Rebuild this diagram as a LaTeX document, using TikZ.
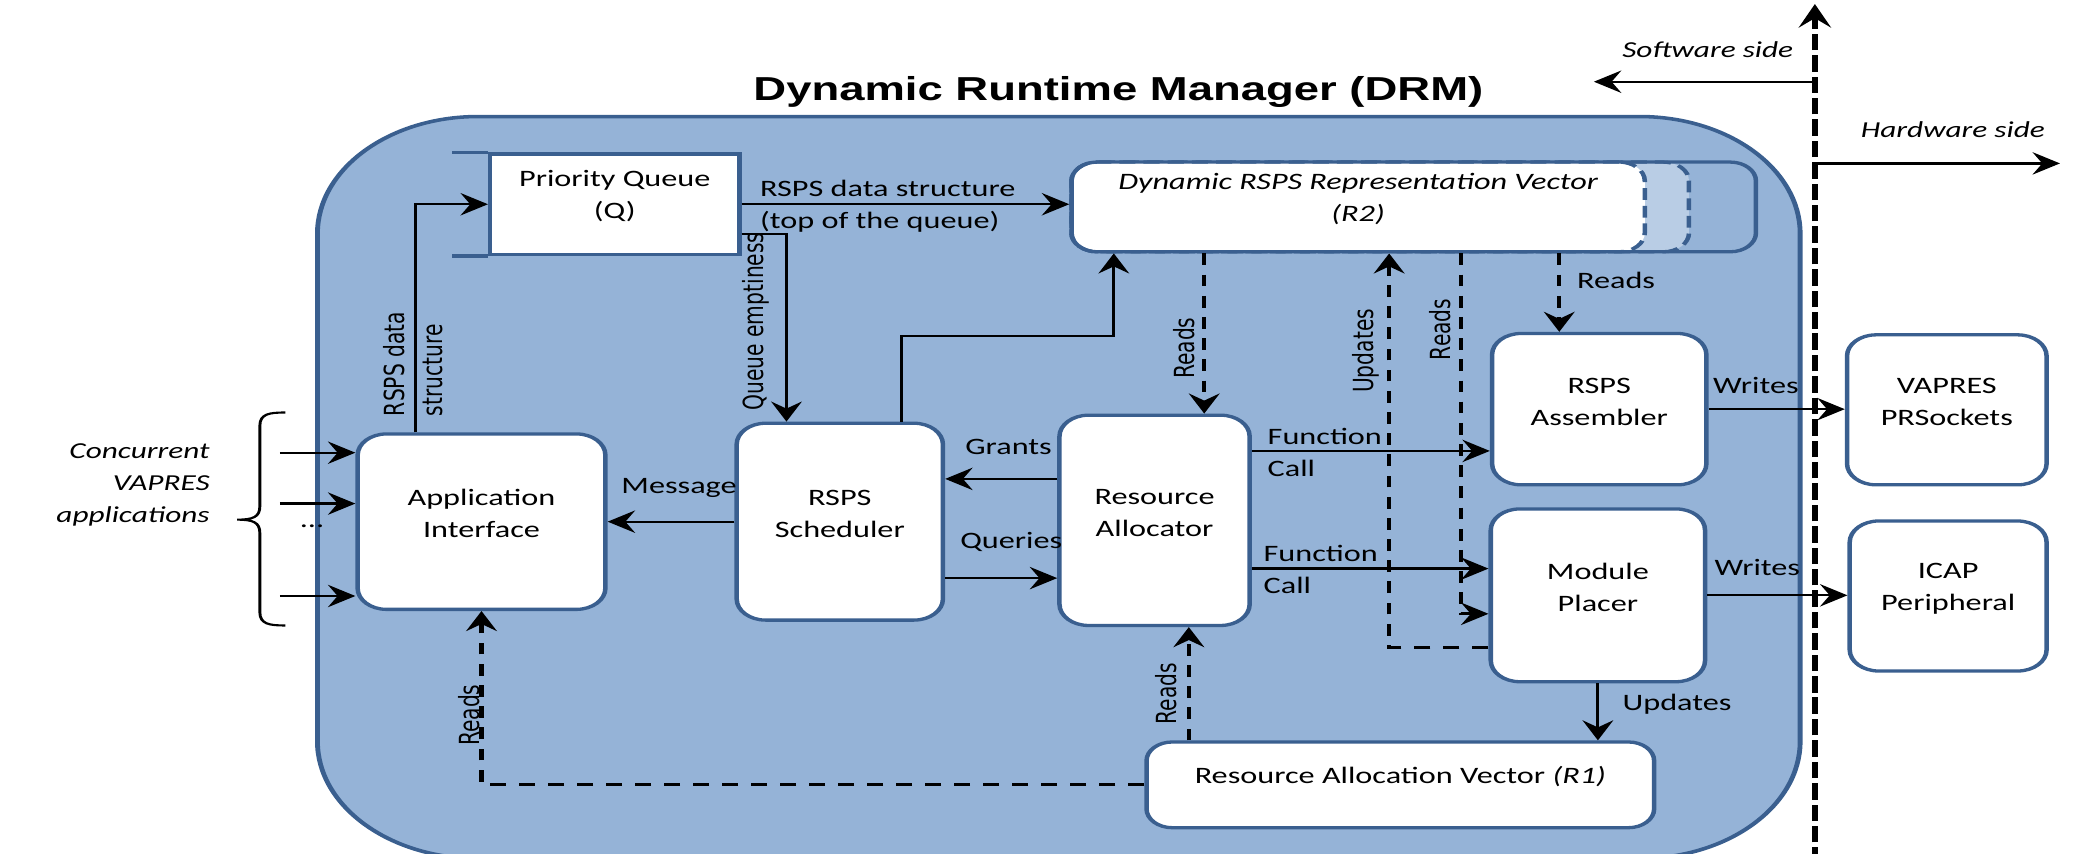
\documentclass[tikz,border=0pt]{standalone}
\usepackage{fontspec}
\setmainfont{Carlito}
\newfontfamily\headfont{Liberation Sans}
\newfontfamily\vertfont{DejaVu Sans}
\usetikzlibrary{arrows.meta,calc,fit}

\definecolor{drmfill}{HTML}{95B3D7}
\definecolor{drmline}{HTML}{3A5F8F}
\definecolor{slotfill}{HTML}{B9CDE5}

\tikzset{
  boxtext/.style={font=\fontsize{10}{13.6}\selectfont, align=center},
  unit/.style={draw=drmline, line width=1.4pt, fill=white, rounded corners=9pt,
               inner sep=0pt, boxtext},
  plainunit/.style={unit, rounded corners=0pt},
  arr/.style={draw=black, line width=0.95pt,
              -{Stealth[length=8.5pt,width=9.5pt,inset=3pt]}},
  darr/.style={arr, line width=1.3pt, dash pattern=on 5pt off 4pt},
  lbl/.style={font=\fontsize{10}{13.6}\selectfont, inner sep=0pt},
  vlbl/.style={font=\vertfont\fontsize{8.6}{12}\selectfont, rotate=90, inner sep=0pt},
  sidelbl/.style={font=\itshape\fontsize{9.7}{13.6}\selectfont, inner sep=0pt},
  divider/.style={line width=2.1pt, dash pattern=on 7pt off 2.1pt,
                  -{Stealth[length=10pt,width=10pt,inset=4pt]}},
}

\begin{document}
\begin{tikzpicture}[x=0.02cm, y=-0.02cm]
\useasboundingbox (0,0) rectangle (1568,637);
\clip (0,0) rectangle (1568,637);
\begin{scope}[x=0.0145985cm, transform canvas={xscale=1.37}]

% ---- manager container ----
\draw[drmline, fill=drmfill, line width=1.5pt, rounded corners=1.75cm]
  (237,87) rectangle (1344,641);
\node[font=\headfont\bfseries\fontsize{14.1}{17}\selectfont] (title) at (835,69)
  {Dynamic Runtime Manager (DRM)};

% ---- representation vector strip (R2) ----
\path[fill=slotfill, rounded corners=8pt] (800,121) rectangle (1261,188);
\draw[drmline, line width=1.4pt, dash pattern=on 5pt off 2.5pt, rounded corners=8pt]
  (800,121) rectangle (1261,188);
\node[unit, rounded corners=8pt, dash pattern=on 5pt off 2.5pt, font=\itshape\fontsize{10}{13.6}\selectfont,
      fit={(800,121) (1228,188)}] (r2) {Dynamic RSPS Representation Vector\\(R2)};
\draw[drmline, line width=1.4pt, rounded corners=8pt] (800,121) rectangle (1311,188);

% ---- functional units ----
\node[plainunit, fit={(366,115) (552,190)}] (pq) {Priority Queue\\(Q)};
\draw[drmline, line width=1.5pt] (pq.north west) -- ++(-27,0)
                                 (pq.south west) -- ++(-27,0);
\node[unit, fit={(267,324) (452,455)}] (app) {Application\\Interface};
\node[unit, fit={(550,316) (704,463)}] (sched) {RSPS\\Scheduler};
\node[unit, fit={(791,310) (933,467)}] (ra) {Resource\\Allocator};
\node[unit, fit={(1114,249) (1274,362)}] (asm) {RSPS\\Assembler};
\node[unit, fit={(1113,380) (1273,509)}] (mp) {Module\\Placer};
\node[unit, fit={(1379,250) (1528,362)}] (vap) {VAPRES\\PRSockets};
\node[unit, fit={(1381,389) (1528,501)}] (icap) {ICAP\\Peripheral};
\node[unit, rounded corners=8pt, fit={(856,554) (1235,618)}] (r1)
  {Resource Allocation Vector \textit{(R1)}};

% ---- application inputs ----
\coordinate (in1) at (209,338);
\coordinate (in2) at (209,376);
\coordinate (in3) at (209,445);
\foreach \c in {in1,in2,in3} \draw[arr] (\c) -- (\c -| app.west);
\node[lbl] (dots) at (233,393) {...};
\draw[line width=0.9pt]
  (213,308) .. controls (201,308) and (194,309) .. (194,318) -- (194,378)
  .. controls (194,386) and (189,388) .. (177,388)
  .. controls (189,388) and (194,390) .. (194,398) -- (194,457)
  .. controls (194,466) and (201,467) .. (213,467);
\node[sidelbl, align=right, anchor=east] (apps) at (157,362)
  {Concurrent\\VAPRES\\applications};

% ---- solid connectors ----
\draw[arr] ($(app.north west)!0.238!(app.north east)$) |- (pq.west);
\node[vlbl, align=left, anchor=west] (lrsps) at (308.5,311) {RSPS data\\structure};

\draw[arr] (pq.east) -- (pq.east -| r2.west);
\node[lbl, anchor=west, align=left] (ltop) at (567,154)
  {RSPS data structure\\(top of the queue)};

\draw[arr] ($(pq.north east)!0.787!(pq.south east)$)
  -| ($(sched.north west)!0.247!(sched.north east)$);
\node[vlbl] (lqe) at (564,240) {Queue emptiness};

\draw[arr] ($(sched.north west)!0.792!(sched.north east)$) -- ++(0,-64)
  -| ($(r2.south west)!0.0771!(r2.south east)$);

\draw[arr] (sched.west) -- (app.east);
\node[lbl] (lmsg) at (507,364) {Message};

\draw[arr] ($(ra.north west)!0.306!(ra.south west)$) coordinate (g) -- (g -| sched.east);
\node[lbl] (lgr) at (753,334) {Grants};

\draw[arr] ($(sched.north east)!0.782!(sched.south east)$) coordinate (q) -- (q -| ra.west);
\node[lbl] (lqu) at (755,405) {Queries};

\draw[arr] ($(ra.north east)!0.175!(ra.south east)$) coordinate (f1) -- (f1 -| asm.west);
\node[lbl, anchor=west, align=left] (lf1) at (946,338) {Function\\Call};
\draw[arr] ($(ra.north east)!0.726!(ra.south east)$) coordinate (f2) -- (f2 -| mp.west);
\node[lbl, anchor=west, align=left] (lf2) at (943,425) {Function\\Call};

\draw[arr] (asm.east) -- (asm.east -| vap.west);
\node[lbl] (lw1) at (1311,288) {Writes};
\draw[arr] (mp.east) -- (mp.east -| icap.west);
\node[lbl] (lw2) at (1312,424) {Writes};

\draw[arr] (mp.south) -- (mp.south |- r1.north);
\node[lbl, anchor=west] (lup2) at (1211,526) {Updates};

% ---- dashed data accesses ----
\draw[darr] ($(r2.south west)!0.2336!(r2.south east)$) coordinate (d1) -- (d1 |- ra.north);
\node[vlbl] (lrd1) at (884,260) {Reads};

\draw[darr] ($(mp.north west)!0.798!(mp.south west)$)
  -| ($(r2.south west)!0.5537!(r2.south east)$);
\node[vlbl] (lup1) at (1020,262) {Updates};

\draw[darr] ($(r2.south west)!0.6776!(r2.south east)$)
  |- ($(mp.north west)!0.605!(mp.south west)$);
\node[vlbl] (lrd2) at (1075,246) {Reads};

\draw[darr] ($(r2.south west)!0.8481!(r2.south east)$) coordinate (d4) -- (d4 |- asm.north);
\node[lbl, anchor=west] (lrd3) at (1177,209) {Reads};

\draw[darr] ($(r1.north west)!0.087!(r1.north east)$) coordinate (d5) -- (d5 |- ra.south);
\node[vlbl] (lrd4) at (871,518) {Reads};

\draw[darr] (r1.west) -| (app.south);
\node[vlbl] (lrd5) at (350,534) {Reads};

% ---- software / hardware boundary ----
\coordinate (divlow) at (1355,645);
\coordinate (divtop) at (1355,3);
\draw[divider] (divlow) -- (divtop);
\coordinate (sw0) at (1355,61);
\coordinate (sw1) at (1190,61);
\draw[arr] (sw0) -- (sw1);
\node[sidelbl] (lsw) at (1275,37) {Software side};
\coordinate (hw0) at (1355,122);
\coordinate (hw1) at (1538,122);
\draw[arr] (hw0) -- (hw1);
\node[sidelbl] (lhw) at (1458,97) {Hardware side};

\end{scope}
\end{tikzpicture}
\end{document}
